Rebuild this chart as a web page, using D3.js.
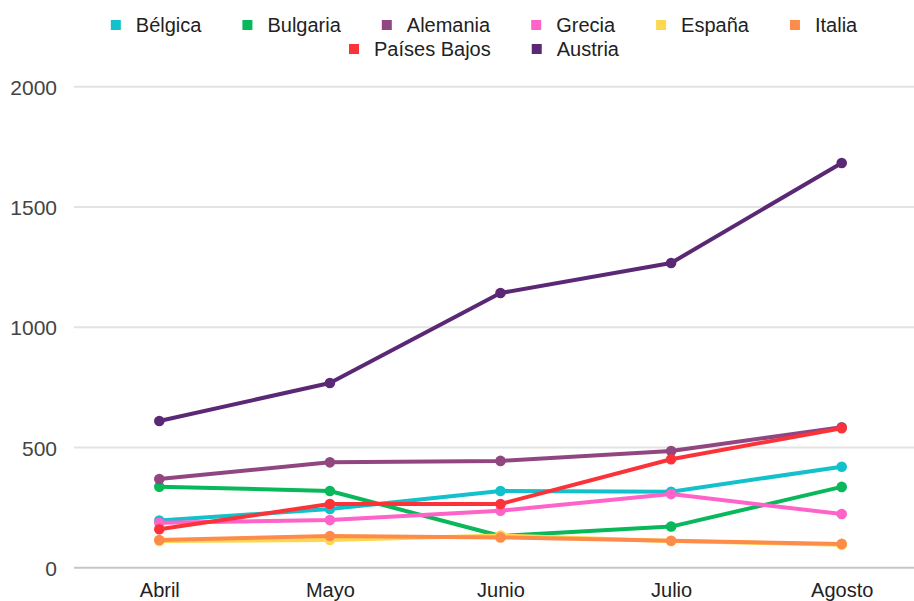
<!DOCTYPE html>
<html>
<head>
<meta charset="utf-8">
<script src="https://cdn.jsdelivr.net/npm/d3@7"></script>
<style>
  html, body { margin: 0; padding: 0; background: #fff; }
  svg { display: block; font-family: "Liberation Sans", Arial, sans-serif; }
</style>
</head>
<body>
<svg id="chart" width="914" height="601"></svg>
<script>
// Months on the x axis
const months = ["Abril", "Mayo", "Junio", "Julio", "Agosto"];

// Y axis ticks
const yTicks = [0, 500, 1000, 1500, 2000];

// Series names and colours, in legend order
const countries = ["Bélgica", "Bulgaria", "Alemania", "Grecia", "España", "Italia", "Países Bajos", "Austria"];
const colors = ["#12c1cb", "#08b85a", "#914681", "#ff62c8", "#fdd84f", "#fd8c4a", "#fb3339", "#5a2874"];

// Monthly values per country
const belgica     = [196, 244, 319, 316, 420];
const bulgaria    = [337, 319, 132, 171, 336];
const alemania    = [369, 438, 444, 485, 584];
const grecia      = [187, 198, 237, 306, 223];
const espana      = [111, 115, 134, 111, 95];
const italia      = [115, 132, 126, 112, 99];
const paisesBajos = [160, 265, 265, 451, 580];
const austria     = [610, 768, 1142, 1267, 1683];

const seriesValues = [belgica, bulgaria, alemania, grecia, espana, italia, paisesBajos, austria];

const svg = d3.select("#chart");

const plotLeft = 74, plotRight = 927, plotTop = 86.7, plotBottom = 567.7;

const x = d3.scalePoint().domain(months).range([plotLeft, plotRight]).padding(0.5);
const y = d3.scaleLinear().domain([0, 2000]).range([plotBottom, plotTop]);

// Horizontal gridlines
svg.append("g")
  .selectAll("line")
  .data(yTicks)
  .join("line")
  .attr("x1", plotLeft).attr("x2", plotRight)
  .attr("y1", d => y(d)).attr("y2", d => y(d))
  .attr("stroke", d => d === 0 ? "#c6c6c6" : "#e3e3e3")
  .attr("stroke-width", 2);

// Y axis labels
const yAxis = svg.append("g")
  .attr("transform", `translate(${plotLeft - 17},0)`)
  .call(d3.axisLeft(y).tickValues(yTicks).tickSize(0).tickPadding(0).tickFormat(d3.format("d")));
yAxis.select(".domain").remove();
yAxis.selectAll("text")
  .attr("font-size", 21)
  .attr("font-family", "Liberation Sans, Arial, sans-serif")
  .attr("fill", "#444")
  .attr("dy", "0.36em");

// X axis labels
const xAxis = svg.append("g")
  .attr("transform", `translate(0,${plotBottom + 14})`)
  .call(d3.axisBottom(x).tickSize(0).tickPadding(0));
xAxis.select(".domain").remove();
xAxis.selectAll("text")
  .attr("font-size", 20)
  .attr("font-family", "Liberation Sans, Arial, sans-serif")
  .attr("fill", "#222")
  .attr("dy", "0.78em");

// Lines and markers
const line = d3.line().x((d, i) => x(months[i])).y(d => y(d));

const series = svg.append("g")
  .selectAll("g")
  .data(seriesValues)
  .join("g");

series.append("path")
  .attr("d", d => line(d))
  .attr("fill", "none")
  .attr("stroke", (d, i) => colors[i])
  .attr("stroke-width", 4)
  .attr("stroke-linejoin", "round");

series.selectAll("circle")
  .data((d, i) => d.map(v => ({ v, c: colors[i] })))
  .join("circle")
  .attr("cx", (d, j) => x(months[j]))
  .attr("cy", d => y(d.v))
  .attr("r", 5.3)
  .attr("fill", d => d.c);

// Legend, two centred rows
const legendRows = [[0, 1, 2, 3, 4, 5], [6, 7]];
const legendCenter = 484;
const rowY = [25, 49];
const gap = 41, boxToText = 25, box = 10;

legendRows.forEach((row, r) => {
  const g = svg.append("g");
  const items = row.map(idx => {
    const it = g.append("g");
    it.append("rect")
      .attr("width", box).attr("height", box)
      .attr("y", rowY[r] - box / 2)
      .attr("fill", colors[idx]);
    const t = it.append("text")
      .attr("x", boxToText)
      .attr("y", rowY[r])
      .attr("dy", "0.35em")
      .attr("font-size", 20)
      .attr("fill", "#222")
      .text(countries[idx]);
    return { it, w: boxToText + t.node().getComputedTextLength() };
  });
  const total = d3.sum(items, d => d.w) + gap * (items.length - 1);
  let cx = legendCenter - total / 2;
  items.forEach(d => {
    d.it.attr("transform", `translate(${cx},0)`);
    cx += d.w + gap;
  });
});
</script>
</body>
</html>
